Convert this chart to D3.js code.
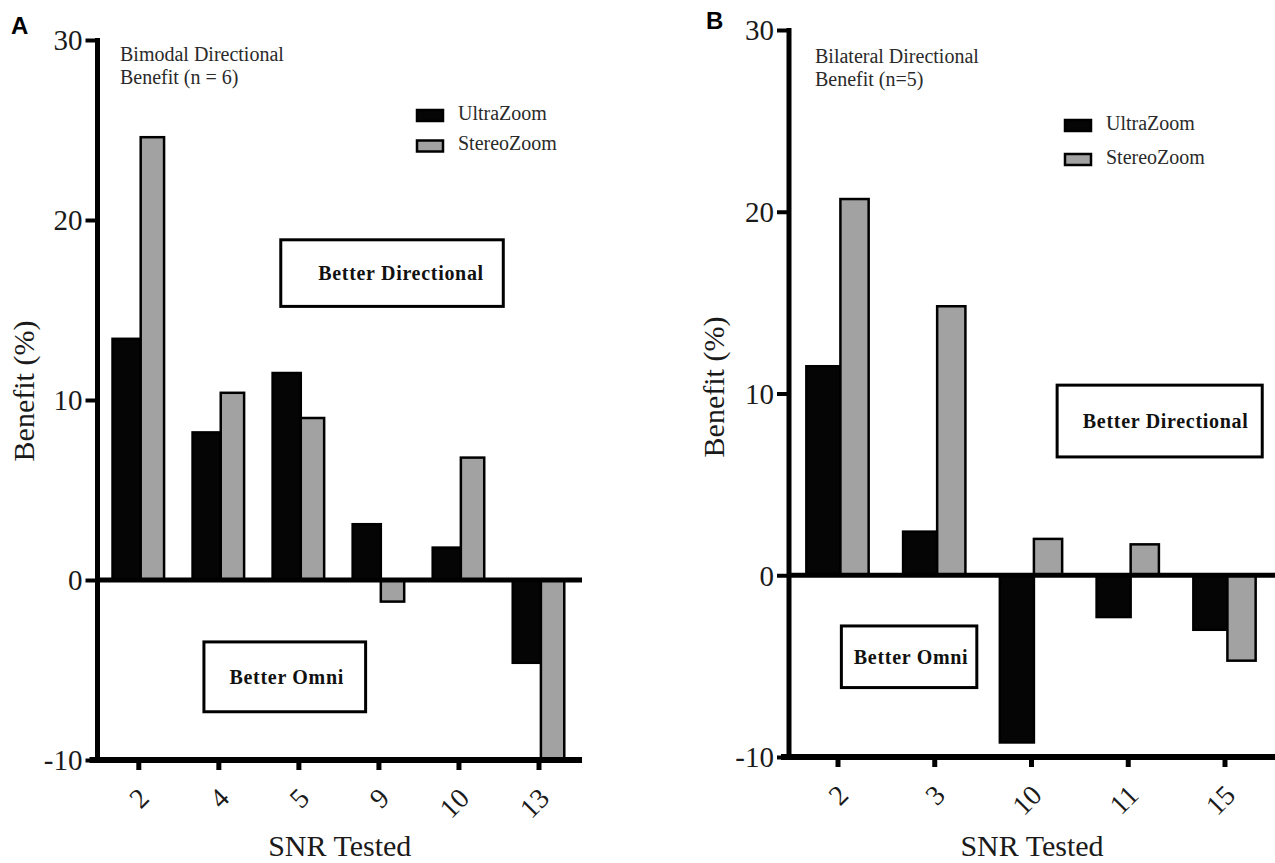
<!DOCTYPE html>
<html>
<head>
<meta charset="utf-8">
<script src="https://cdn.jsdelivr.net/npm/d3@7"></script>
<style>
  html, body { margin: 0; padding: 0; background: #ffffff; }
  svg { display: block; }
</style>
</head>
<body>
<svg id="chart" width="1275" height="863"></svg>
<script>
// ---- Data ----
const seriesNames = ["UltraZoom", "StereoZoom"];
const yTickValues = [-10, 0, 10, 20, 30];

const catsA = ["2", "4", "5", "9", "10", "13"];
const ultraA = [13.4, 8.2, 11.5, 3.1, 1.8, -4.6];
const stereoA = [24.6, 10.4, 9.0, -1.2, 6.8, -10.0];
const titleA = ["Bimodal Directional", "Benefit (n = 6)"];

const catsB = ["2", "3", "10", "11", "15"];
const ultraB = [11.5, 2.4, -9.2, -2.3, -3.0];
const stereoB = [20.7, 14.8, 2.0, 1.7, -4.7];
const titleB = ["Bilateral Directional", "Benefit (n=5)"];

const annotationLabels = ["Better Directional", "Better Omni"];

// ---- Style ----
const SERIF = "'Liberation Serif', 'Times New Roman', serif";
const SANS = "'Liberation Sans', Arial, sans-serif";
const colors = ["#050505", "#a2a2a2"];
const svg = d3.select("#chart");

function drawPanel(cfg) {
  const g = svg.append("g");
  const y = d3.scaleLinear().domain([-10, 30]).range([cfg.bottom, cfg.top]);
  const x = d3.scalePoint().domain(cfg.cats).range([cfg.firstX, cfg.lastX]);
  const step = x.step();
  const idx = d3.scaleLinear().domain([0, cfg.cats.length - 1]).range([cfg.firstX, cfg.lastX]);
  const half = 0.322 * step;
  const split = 0.03 * step;

  // bars
  const rows = cfg.cats.map((c, i) => ({ c, u: cfg.ultra[i], s: cfg.stereo[i] }));
  rows.forEach(r => {
    const cx = x(r.c);
    [[r.u, cx - half, cx + split, 0], [r.s, cx + split, cx + half, 1]].forEach(([v, x0, x1, k]) => {
      g.append("rect")
        .attr("x", x0).attr("width", x1 - x0)
        .attr("y", Math.min(y(v), y(0))).attr("height", Math.abs(y(v) - y(0)))
        .attr("fill", colors[k]).attr("stroke", "#000").attr("stroke-width", 2.5);
    });
  });

  // zero line
  g.append("line").attr("x1", cfg.left).attr("x2", cfg.right)
    .attr("y1", y(0)).attr("y2", y(0)).attr("stroke", "#000").attr("stroke-width", 5);
  // bottom axis line
  g.append("line").attr("x1", cfg.left - 8).attr("x2", cfg.right)
    .attr("y1", cfg.bottom).attr("y2", cfg.bottom).attr("stroke", "#000").attr("stroke-width", 6);
  // y axis line
  g.append("line").attr("x1", cfg.left).attr("x2", cfg.left)
    .attr("y1", cfg.top - 2).attr("y2", cfg.bottom + 3).attr("stroke", "#000").attr("stroke-width", 5);

  // y axis ticks
  const yAxis = d3.axisLeft(y).tickValues(yTickValues).tickSize(12).tickPadding(3).tickFormat(d => String(d));
  const ya = g.append("g").attr("transform", `translate(${cfg.left},0)`).call(yAxis);
  ya.select(".domain").remove();
  ya.selectAll(".tick line").attr("stroke", "#000").attr("stroke-width", 4);
  ya.selectAll(".tick text").style("font-family", SERIF)
    .style("font-size", "29px").attr("fill", "#1a1a1a").attr("dy", "0.34em");

  // x axis ticks
  const xAxis = d3.axisBottom(x).tickSize(10).tickPadding(0);
  const xa = g.append("g").attr("transform", `translate(0,${cfg.bottom})`).call(xAxis);
  xa.select(".domain").remove();
  xa.selectAll(".tick line").attr("stroke", "#000").attr("stroke-width", 5);
  xa.selectAll(".tick text")
    .style("font-family", SERIF).style("font-size", "28px").attr("fill", "#1a1a1a")
    .attr("text-anchor", "end").attr("y", 0).attr("dy", "0.35em")
    .attr("transform", "translate(5,33) rotate(-45)");

  // axis titles
  g.append("text").attr("transform", `translate(${cfg.yTitleX},${cfg.yTitleY}) rotate(-90)`)
    .attr("text-anchor", "middle").style("font-family", SERIF).style("font-size", "30px")
    .attr("fill", "#1a1a1a").text("Benefit (%)");
  g.append("text").attr("x", (cfg.left + cfg.right) / 2).attr("y", 856)
    .attr("text-anchor", "middle").style("font-family", SERIF).style("font-size", "30px")
    .attr("fill", "#1a1a1a").text("SNR Tested");

  // panel title
  cfg.title.forEach((t, i) => {
    g.append("text").attr("x", cfg.titleX).attr("y", cfg.titleY + i * 23)
      .style("font-family", SERIF).style("font-size", "20px").attr("fill", "#2a2a2a").text(t);
  });

  // panel letter
  g.append("text").attr("x", cfg.letterX).attr("y", cfg.letterY)
    .style("font-family", SANS).style("font-weight", "bold")
    .style("font-size", "24px").attr("fill", "#000").text(cfg.letter);

  // legend
  seriesNames.forEach((name, i) => {
    const ly = cfg.legY + i * cfg.legGap;
    g.append("rect").attr("x", cfg.legX).attr("y", ly - 5.5).attr("width", 26).attr("height", 11)
      .attr("fill", colors[i]).attr("stroke", "#000").attr("stroke-width", 2.5);
    g.append("text").attr("x", cfg.legX + 41).attr("y", ly + 4)
      .style("font-family", SERIF).style("font-size", "20px").attr("fill", "#2a2a2a").text(name);
  });

  // annotation boxes
  cfg.boxes.forEach((b, i) => {
    const x0 = idx(b.i0), x1 = idx(b.i1), y0 = y(b.v0), y1 = y(b.v1);
    g.append("rect").attr("x", x0).attr("y", y0).attr("width", x1 - x0).attr("height", y1 - y0)
      .attr("fill", "#fff").attr("stroke", "#000").attr("stroke-width", 3);
    g.append("text").attr("x", (x0 + x1) / 2 + b.dx).attr("y", (y0 + y1) / 2)
      .attr("dy", "0.35em").attr("text-anchor", "middle")
      .style("font-family", SERIF).style("font-size", "20px").style("font-weight", "bold")
      .style("letter-spacing", "0.7px")
      .attr("fill", "#111").text(annotationLabels[i]);
  });
}

drawPanel({
  letter: "A", letterX: 11, letterY: 34,
  cats: catsA, ultra: ultraA, stereo: stereoA, title: titleA,
  left: 97.5, right: 582, top: 40, bottom: 760,
  firstX: 138.3, lastX: 538.5,
  yTitleX: 34, yTitleY: 391,
  titleX: 120, titleY: 61,
  legX: 417, legY: 115.5, legGap: 30.5,
  boxes: [
    { i0: 1.78, i1: 4.56, v0: 18.9, v1: 15.2, dx: 9 },
    { i0: 0.82, i1: 2.84, v0: -3.44, v1: -7.32, dx: 2 }
  ]
});

drawPanel({
  letter: "B", letterX: 706, letterY: 29,
  cats: catsB, ultra: ultraB, stereo: stereoB, title: titleB,
  left: 789, right: 1275, top: 30, bottom: 757,
  firstX: 837.5, lastX: 1224.5,
  yTitleX: 724, yTitleY: 387,
  titleX: 815, titleY: 63,
  legX: 1065, legY: 125.5, legGap: 34,
  boxes: [
    { i0: 2.27, i1: 4.39, v0: 10.46, v1: 6.51, dx: 6 },
    { i0: 0.04, i1: 1.44, v0: -2.79, v1: -6.18, dx: 2 }
  ]
});
</script>
</body>
</html>
